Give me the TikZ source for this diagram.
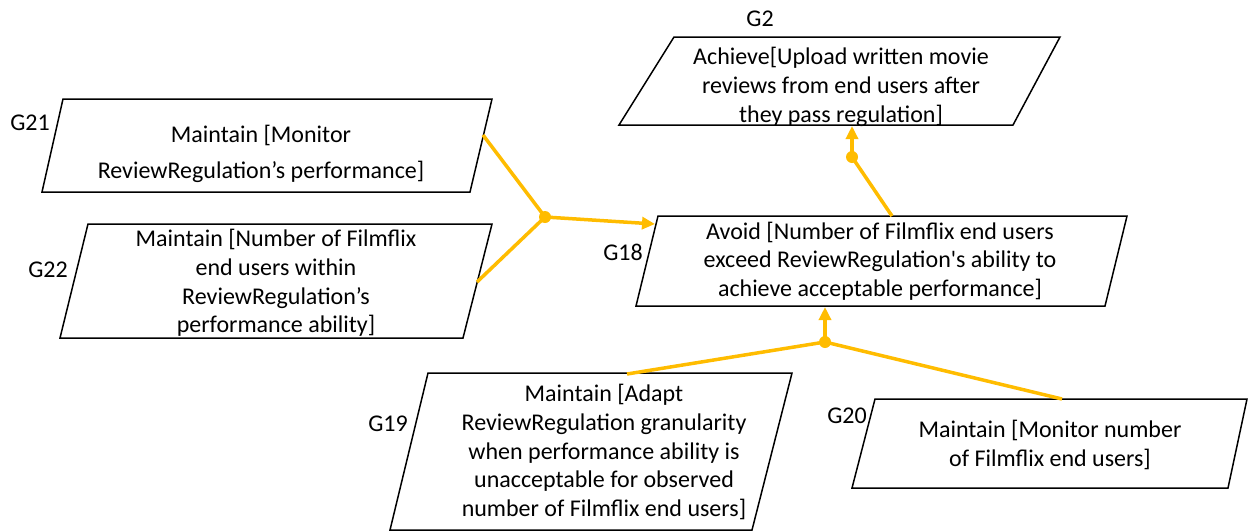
\documentclass[tikz,border=0pt]{standalone}
\usepackage{fontspec}
\setmainfont{Carlito}
\usepackage{xcolor}
\usepackage{tikz}
\usetikzlibrary{arrows.meta}

\definecolor{refine}{RGB}{255,188,0}

\begin{document}
\begin{tikzpicture}[x=1pt,y=-1pt,
    goal/.style = {align=center,inner sep=0pt,
      font=\fontsize{24}{28.7}\selectfont},
    tag/.style = {font=\fontsize{24}{28}\selectfont,inner sep=0pt},
    box/.style = {draw=black,line width=1.5pt,line join=miter},
    link/.style = {draw=refine,line width=3.5pt},
    dot/.style = {fill=refine}]
  \useasboundingbox (0,0) rectangle (1249,531);
  % outlines
  \draw[box] (674,37) -- (1060,37) -- (1013,125) -- (619,125) -- cycle;
  \draw[box] (63,99) -- (492,99) -- (470,192) -- (42,192) -- cycle;
  \draw[box] (88,224) -- (492,224) -- (463,338) -- (60,338) -- cycle;
  \draw[box] (658,216) -- (1127,216) -- (1105,306) -- (636,306) -- cycle;
  \draw[box] (428,373) -- (792,373) -- (752,530) -- (390,530) -- cycle;
  \draw[box] (875,399) -- (1247,399) -- (1228,488) -- (852,488) -- cycle;
  % goals
  \node[goal] (g2) at (841,87) {Achieve[Upload written movie\\reviews from end users after\\they pass regulation]};
  \node[goal] (g21) at (261,154) {Maintain [Monitor\\[8pt]ReviewRegulation’s performance]};
  \node[goal] (g22) at (276,283) {Maintain [Number of Filmflix\\end users within\\ReviewRegulation’s\\performance ability]};
  \node[goal] (g18) at (880,261) {Avoid [Number of Filmflix end users\\exceed ReviewRegulation\textquotesingle s ability to\\achieve acceptable performance]};
  \node[goal] (g19) at (604,452) {Maintain [Adapt\\ReviewRegulation granularity\\when performance ability is\\unacceptable for observed\\number of Filmflix end users]};
  \node[goal] (g20) at (1050,445) {Maintain [Monitor number\\of Filmflix end users]};
  % names
  \node[tag] (t2) at (760,19) {G2};
  \node[tag] (t21) at (30,123) {G21};
  \node[tag] (t22) at (48,270) {G22};
  \node[tag] (t18) at (623,252) {G18};
  \node[tag] (t19) at (388,424) {G19};
  \node[tag] (t20) at (847,416) {G20};
  % refinement links
  \coordinate (j1) at (545,217);
  \coordinate (j2) at (825,342);
  \coordinate (j3) at (852,157);
  \coordinate (g21e) at (483,135);
  \coordinate (g22e) at (477,282);
  \coordinate (g18w) at (655,224);
  \coordinate (g18n) at (892,216);
  \coordinate (g18s) at (825,307);
  \coordinate (g2s) at (852,126);
  \coordinate (g19n) at (627,374);
  \coordinate (g20n) at (1062,399);
  \draw[link] (g21e) -- (j1);
  \draw[link] (g22e) -- (j1);
  \draw[link,-{Triangle[length=13pt,width=12pt]}] (j1) -- (g18w);
  \draw[link] (g18n) -- (j3);
  \draw[link,-{Triangle[length=13pt,width=12pt]}] (j3) -- (g2s);
  \draw[link] (g19n) -- (j2);
  \draw[link] (g20n) -- (j2);
  \draw[link,-{Triangle[length=13pt,width=12pt]}] (j2) -- (g18s);
  \fill[dot] (j1) circle (6);
  \fill[dot] (j2) circle (6);
  \fill[dot] (j3) circle (6);
\end{tikzpicture}
\end{document}
